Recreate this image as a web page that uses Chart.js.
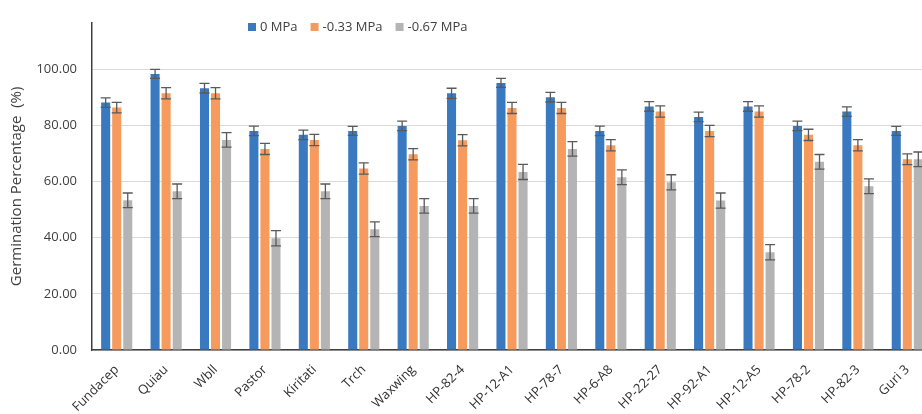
<!DOCTYPE html>
<html lang="en">
<head>
    <meta charset="UTF-8">
    <title>Germination Percentage</title>
    <style>
        html, body { margin: 0; padding: 0; background: #fff; overflow: hidden; }
        #wrap { position: absolute; left: 0; top: 0; width: 940px; height: 420px; }
    </style>
</head>
<body>
<div id="wrap">
    <canvas id="grafico"></canvas>
</div>
<script src="https://cdn.jsdelivr.net/npm/chart.js"></script>
<script type="text/javascript">
    // categories
    var variedades = ['Fundacep', 'Quiau', 'Wbll', 'Pastor', 'Kiritati', 'Trch', 'Waxwing', 'HP-82-4',
        'HP-12-A1', 'HP-78-7', 'HP-6-A8', 'HP-22-27', 'HP-92-A1', 'HP-12-A5', 'HP-78-2', 'HP-82-3', 'Guri 3'];
    var series = ['0 MPa', '-0.33 MPa', '-0.67 MPa'];

    // germination % per treatment
    var mpa0 = [88.1, 98.3, 93.2, 78.0, 76.6, 78.0, 79.8, 91.4, 95.1, 90.0, 78.0, 86.7, 83.0, 86.7, 79.8, 84.9, 78.0];
    var mpa033 = [86.3, 91.4, 91.4, 71.6, 74.8, 64.6, 69.7, 74.7, 86.2, 86.2, 72.9, 84.9, 78.0, 84.9, 76.6, 72.9, 67.9];
    var mpa067 = [53.3, 56.5, 74.8, 39.8, 56.5, 43.0, 51.3, 51.3, 63.4, 71.6, 61.5, 59.7, 53.2, 34.8, 67.0, 58.3, 67.9];

    // error bars (+/-)
    var err0 = [1.7, 1.6, 1.7, 1.7, 1.7, 1.6, 1.7, 1.8, 1.6, 1.7, 1.7, 1.7, 1.7, 1.7, 1.7, 1.7, 1.6];
    var err033 = [1.9, 2.0, 2.0, 2.0, 2.0, 2.0, 2.0, 2.0, 2.0, 2.0, 2.0, 2.0, 2.0, 2.0, 2.0, 2.0, 1.9];
    var err067 = [2.6, 2.6, 2.6, 2.7, 2.6, 2.6, 2.6, 2.6, 2.7, 2.6, 2.6, 2.7, 2.7, 2.7, 2.6, 2.6, 2.6];

    var yTicks = [0, 20, 40, 60, 80, 100];

    var colores = ['#3979bf', '#f79a5e', '#b4b4b4'];
    var valores = [mpa0, mpa033, mpa067];
    var errores = [err0, err033, err067];

    var datasets = series.map(function (s, i) {
        return {
            label: s,
            data: valores[i],
            errores: errores[i],
            backgroundColor: colores[i],
            borderWidth: 0,
            categoryPercentage: 0.67,
            barPercentage: 0.82
        };
    });

    // error bars drawn with the y scale
    const errorBars = {
        id: 'errorBars',
        afterDatasetsDraw(chart) {
            const ctx = chart.ctx;
            const y = chart.scales.y;
            ctx.save();
            ctx.strokeStyle = '#5a5a5a';
            ctx.lineWidth = 1.3;
            chart.data.datasets.forEach(function (ds, di) {
                const meta = chart.getDatasetMeta(di);
                meta.data.forEach(function (bar, i) {
                    const v = ds.data[i], e = ds.errores[i];
                    const yTop = y.getPixelForValue(v + e);
                    const yBot = y.getPixelForValue(v - e);
                    const x = bar.x;
                    ctx.beginPath();
                    ctx.moveTo(x, yTop); ctx.lineTo(x, yBot);
                    ctx.moveTo(x - 5, yTop); ctx.lineTo(x + 5, yTop);
                    ctx.moveTo(x - 5, yBot); ctx.lineTo(x + 5, yBot);
                    ctx.stroke();
                });
            });
            ctx.restore();
        }
    };

    // legend inside the plot area, in one row
    const leyenda = {
        id: 'leyenda',
        afterDraw(chart) {
            const ctx = chart.ctx;
            let x = 248;
            const y = 27;
            ctx.save();
            ctx.font = '13px "Open Sans", "Noto Sans", sans-serif';
            ctx.textBaseline = 'middle';
            ctx.textAlign = 'left';
            chart.data.datasets.forEach(function (ds) {
                ctx.fillStyle = ds.backgroundColor;
                ctx.fillRect(x, y - 4, 8, 8);
                ctx.fillStyle = '#404040';
                ctx.fillText(ds.label, x + 12, y);
                x += 12 + ctx.measureText(ds.label).width + 13;
            });
            ctx.restore();
        }
    };

    Chart.defaults.font.family = '"Open Sans", "Noto Sans", sans-serif';
    Chart.defaults.color = '#595959';

    new Chart(document.getElementById('grafico'), {
        type: 'bar',
        data: { labels: variedades, datasets: datasets },
        options: {
            responsive: true,
            maintainAspectRatio: false,
            animation: false,
            layout: { padding: { top: 13, left: 0, right: 8, bottom: 0 } },
            plugins: {
                legend: { display: false },
                tooltip: { enabled: false }
            },
            scales: {
                x: {
                    grid: { display: false },
                    border: { display: true, color: '#404040', width: 1.5 },
                    ticks: {
                        minRotation: 45,
                        maxRotation: 45,
                        autoSkip: false,
                        padding: 4,
                        color: '#303030',
                        font: { size: 13 }
                    },
                    afterFit: function (scale) { scale.height = 70; }
                },
                y: {
                    min: 0,
                    max: 116.5,
                    afterBuildTicks: function (scale) {
                        scale.ticks = yTicks.map(function (v) { return { value: v }; });
                    },
                    grid: { color: '#d9d9d9', lineWidth: 1, drawTicks: false },
                    border: { display: true, color: '#404040', width: 1.5 },
                    ticks: {
                        padding: 15,
                        color: '#404040',
                        font: { size: 13 },
                        callback: function (v) { return Number(v).toFixed(2); }
                    },
                    title: {
                        display: true,
                        text: 'Germination Percentage  (%)',
                        color: '#404040',
                        font: { size: 15 },
                        padding: { top: 8, bottom: 0 }
                    },
                    afterFit: function (scale) { scale.width = 92; }
                }
            }
        },
        plugins: [errorBars, leyenda]
    });
</script>
</body>
</html>
